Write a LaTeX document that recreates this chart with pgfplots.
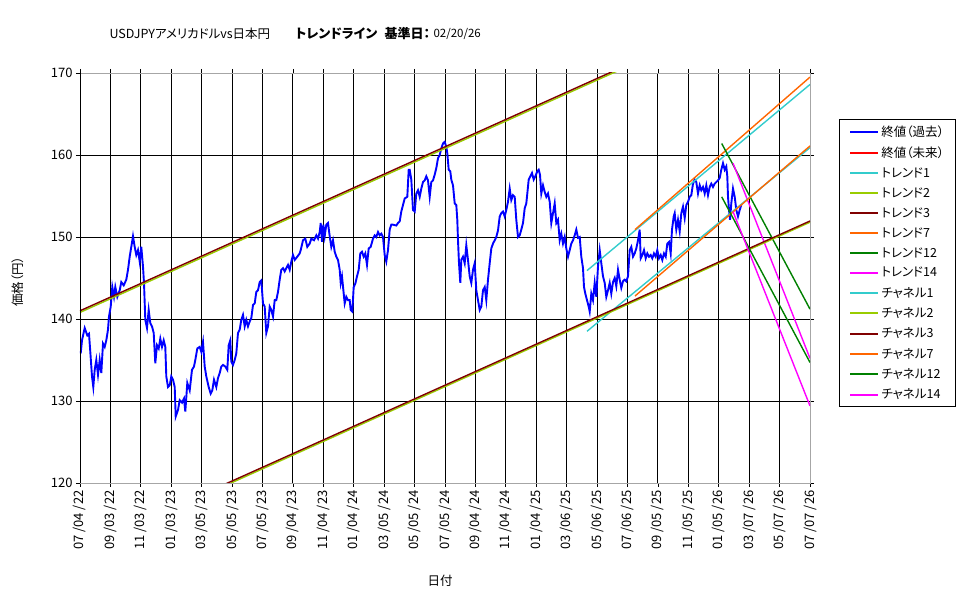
\documentclass[border=0pt]{standalone}
\usepackage{fontspec}
\setmainfont{Noto Sans CJK JP}[RawFeature={+palt}]
\usepackage{pgfplots}
\pgfplotsset{compat=1.18}
\definecolor{tcyan}{RGB}{51,204,204}
\definecolor{tyg}{RGB}{153,204,0}
\definecolor{tdred}{RGB}{128,0,0}
\definecolor{torange}{RGB}{255,102,0}
\definecolor{tgreen}{RGB}{0,128,0}
\definecolor{tmag}{RGB}{255,0,255}
\begin{document}
\begin{tikzpicture}[x=1pt,y=1pt]
\path[use as bounding box] (0,0) rectangle (975,599);
\begin{axis}[
  at={(80pt,116pt)}, anchor=south west,
  scale only axis, width=730pt, height=410pt,
  xmin=80, xmax=810, ymin=120, ymax=170,
  ytick={120,130,140,150,160,170},
  xtick={80,110.42,140.83,171.25,201.67,232.08,262.5,292.92,323.33,353.75,384.17,414.58,445,475.42,505.83,536.25,566.67,597.08,627.5,657.92,688.33,718.75,749.17,779.58,810},
  xticklabels={07 /04 /22,09 /03 /22,11 /03 /22,01 /03 /23,03 /05 /23,05 /05 /23,07 /05 /23,09 /04 /23,11 /04 /23,01 /04 /24,03 /05 /24,05 /05 /24,07 /05 /24,09 /04 /24,11 /04 /24,01 /04 /25,03 /06 /25,05 /06 /25,07 /06 /25,09 /05 /25,11 /05 /25,01 /05 /26,03 /07 /26,05 /07 /26,07 /07 /26},
  /pgf/number format/assume math mode=true,
  ticklabel style={font=\fontsize{13}{13}\selectfont},
  xticklabel style={rotate=90, anchor=east},
  grid=major, major grid style={black, line width=0.9pt},
  axis line style={gray!70, line width=0.9pt},
  tick align=outside, major tick length=4pt, tick style={black, line width=0.8pt},
  legend style={at={(axis description cs:1.0397,0.8878)}, anchor=north west, draw=black, line width=0.9pt,
    font=\fontsize{12.5}{14}\selectfont, inner xsep=10pt, inner ysep=4pt, row sep=4.8pt, cells={anchor=west}},
  legend image code/.code={\draw[#1, line width=2pt] (0pt,0pt) -- (28pt,0pt);},
]
\addplot[blue, line width=1.9pt] table {
80.7 135.8
82 137.4
84.7 138.9
87.3 138.0
89 138.2
90.3 136.0
92 133.0
93.3 131.7
94.7 133.8
96.3 135.0
98 133.2
99.7 135.0
101.3 133.4
103 137.0
104.7 136.6
106.3 137.4
108 138.7
109 140.3
110.7 141.5
112.3 143.9
114 142.7
115.3 143.9
117.3 142.7
119.7 143.5
121.3 144.5
123.7 144.1
126.3 144.8
128 146.0
129.7 147.6
131.3 148.8
133 150.1
134.7 148.8
136.3 147.8
138 148.4
139.7 147.0
141.3 148.8
143 146.4
144 144.4
145.3 139.9
147 138.9
148.7 141.1
150.3 139.5
152 139.1
153.7 138.3
155.3 134.6
157 136.8
158.7 136.4
160.3 137.6
162 136.6
163.7 137.4
165.3 136.6
166.3 133.0
168 131.7
169.7 131.9
171.3 133.0
173 132.6
174.7 131.7
175.7 128.1
178 128.9
179.7 130.1
182 129.8
184 130.3
185.3 128.7
187.3 132.2
189.7 131.3
192 133.8
194 134.2
195.3 135.0
197.3 136.4
199.7 136.6
201.3 136.0
203 137.2
204.7 134.2
206.3 133.0
208.7 131.7
210.7 130.9
212.3 131.3
214 132.6
216.3 131.7
218 132.8
219.7 133.4
221.3 134.2
223 134.4
225.3 134.2
227.3 133.8
228.7 136.8
230.3 137.4
231.3 134.8
233 134.4
234.7 135.0
236.3 135.8
238 138.3
239.7 138.7
241.3 139.9
243 140.5
244.7 139.1
246.3 139.9
248 139.1
249.7 139.7
251.3 140.1
253 141.7
254.7 141.9
256.3 143.3
258 143.5
259.7 144.5
261.3 144.7
263 141.9
264.7 141.5
266.3 138.3
268 139.1
269.7 141.5
271.3 141.1
273 140.3
274.7 142.3
276.3 142.3
278 143.3
279.7 144.8
281.3 146.0
283 146.2
284.7 145.8
286.3 146.2
288 146.6
289.7 146.0
291.3 147.0
293 147.8
294.7 147.2
297.3 147.6
299.7 148.0
300.7 148.4
303 149.6
305.3 149.8
307.3 148.8
309.7 149.2
311.3 149.8
314 149.6
316.3 150.2
318 149.8
319.7 150.6
320.7 151.7
322 149.4
323.3 151.5
324.7 150.1
326.3 151.5
328 151.7
329.7 150.1
331.3 148.8
333 149.6
334.7 148.2
336.3 147.6
338 147.2
339.7 146.0
340.7 144.4
342 145.2
343.7 143.1
344.7 141.9
346.3 142.7
348 142.3
349.7 142.3
350.7 141.1
352.3 140.9
353.7 143.9
355.3 144.3
357 145.2
358.7 146.0
360.3 148.0
362 148.2
363.7 147.6
365.3 148.0
367 146.6
368.7 148.6
370.7 148.8
373 149.8
374.7 150.2
376.3 150.0
378 150.6
379.7 150.2
381.3 150.4
383 150.0
384.7 147.8
386.3 147.0
388 148.4
389.7 150.9
391.3 151.5
393 151.5
396.3 151.4
398 151.7
399.7 151.9
401.3 153.1
403 153.9
404.7 154.7
407.3 154.9
408.7 158.2
409.7 158.2
411.3 157.0
413 153.3
414.7 153.1
416.3 155.3
418 155.7
419.7 154.9
421.3 155.9
423 156.7
424.7 156.9
426.3 157.4
428 156.9
429.7 154.9
431.3 156.7
433 156.9
434.7 157.6
436.3 158.4
438 159.6
439.7 160.0
441.3 160.8
443 161.4
444.7 161.6
446.3 161.0
447.3 160.2
448.7 158.2
450.3 158.0
451.3 157.0
453 156.3
454.7 154.1
456.3 153.9
457.3 152.1
458 149.6
459 146.8
460.3 144.4
461.3 147.2
463 147.6
464.7 146.8
466.3 149.0
468 147.2
469.7 145.2
471.3 144.4
473 146.0
474.7 146.8
476.3 143.5
478 142.3
479.7 141.1
481.3 141.5
483 143.5
484.7 143.9
486.3 142.3
488 144.8
489.7 146.8
491.3 148.6
493 149.2
494.7 149.6
496.3 150.0
498 150.8
499.7 152.5
501.3 152.9
503 153.1
504.7 152.5
506.3 153.3
508 154.3
509.7 155.9
511.3 154.5
513 155.1
514.7 154.9
516.3 152.1
518 150.0
519.7 150.2
521.3 150.9
523 151.7
524.7 153.5
526.3 154.1
527.3 155.3
528.7 157.0
530.3 157.4
532 157.8
533.7 157.0
535.3 157.4
537.3 158.0
538.7 158.2
540 157.6
541.3 155.3
543 156.3
544.7 155.5
546.3 154.9
548 155.3
549.7 154.3
551.3 151.7
553 152.9
554.7 154.1
556.3 151.7
558 152.1
559.7 149.6
561.3 150.4
563 149.2
564.7 150.0
566.3 148.6
568 147.6
569.7 148.4
571.3 149.2
573 149.6
574.7 150.2
576.3 150.9
578 149.9
579.7 150.0
581.3 147.6
583 146.2
584 143.9
585.3 143.1
587 142.3
588.7 141.5
589.7 140.9
591.3 143.1
593 142.3
594.7 144.4
596.3 142.7
598 146.4
599.7 148.4
601.3 146.8
603 145.2
604.7 144.4
606.3 142.7
608 143.5
609.7 144.4
611.3 143.1
613 144.5
614.7 145.0
616.3 144.0
618 146.0
619.7 144.8
621.3 143.8
623 144.6
624.7 144.8
626.3 144.6
628 145.2
629.7 148.4
631.3 148.8
633 147.6
634.7 148.0
636.3 148.6
638 149.6
639.7 150.9
640.7 147.4
642.3 147.8
644 148.4
645.7 147.4
647.3 148.0
649 147.6
650.7 147.8
652.3 147.4
654 148.0
655.7 147.6
657.3 148.4
659 147.4
660.7 147.8
662.3 147.2
664 148.0
665.7 147.6
667.3 149.2
669 149.4
670.7 148.0
672 150.9
673.7 152.5
674.7 152.9
676.3 150.9
678 152.1
679.7 150.7
681.3 152.9
683 153.7
684.7 152.3
686.3 153.9
688 154.3
689.7 154.9
691.3 155.1
693 156.5
694.7 157.0
696.3 156.7
698 155.3
699.7 156.3
701.3 155.7
703 156.1
704.7 155.3
706.3 156.3
708 155.1
709.7 156.1
711.3 156.5
713 156.1
714.7 156.5
716.3 156.7
718 156.9
719.7 157.2
721.3 158.2
723 159.0
724.7 158.2
726.3 158.6
727.3 157.4
728 154.9
729 153.3
730 152.1
731.3 154.1
733 155.9
734.7 154.9
736.3 153.3
738 152.5
739.7 153.3
741.3 153.9
};
\addlegendentry{終値（過去）}
\addlegendimage{red}
\addlegendentry{終値（未来）}
\addplot[tcyan, line width=1.4pt] coordinates {(587,145.9) (810,168.6)};
\addlegendentry{トレンド1}
\addplot[tyg, line width=1.4pt] coordinates {(80,140.8) (810,180.8)};
\addlegendentry{トレンド2}
\addplot[tdred, line width=1.4pt] coordinates {(80,141.0) (810,181.0)};
\addlegendentry{トレンド3}
\addplot[torange, line width=1.4pt] coordinates {(635,150.9) (810,169.5)};
\addlegendentry{トレンド7}
\addplot[tgreen, line width=1.4pt] coordinates {(721.7,161.4) (810,141.2)};
\addlegendentry{トレンド12}
\addplot[tmag, line width=1.4pt] coordinates {(733,159.0) (810,135.2)};
\addlegendentry{トレンド14}
\addplot[tcyan, line width=1.4pt] coordinates {(587,138.5) (810,160.9)};
\addlegendentry{チャネル1}
\addplot[tyg, line width=1.4pt] coordinates {(80,111.7) (810,151.8)};
\addlegendentry{チャネル2}
\addplot[tdred, line width=1.4pt] coordinates {(80,111.9) (810,151.95)};
\addlegendentry{チャネル3}
\addplot[torange, line width=1.4pt] coordinates {(635,142.8) (810,161.1)};
\addlegendentry{チャネル7}
\addplot[tgreen, line width=1.4pt] coordinates {(721.7,154.9) (810,134.7)};
\addlegendentry{チャネル12}
\addplot[tmag, line width=1.4pt] coordinates {(733,153.1) (810,129.4)};
\addlegendentry{チャネル14}
\draw[black, line width=0.9pt] (rel axis cs:0,0) -- (rel axis cs:0,1);
\draw[black, line width=0.9pt] (rel axis cs:0,0) -- (rel axis cs:1,0);
\end{axis}
\node[anchor=west, font=\fontsize{12.5}{12.5}\selectfont] at (106,565) {USDJPYアメリカドルvs日本円};
\node[anchor=west, font=\fontsize{13}{13}\selectfont\bfseries] at (292,565) {トレンドライン};
\node[anchor=west, font=\fontsize{13}{13}\selectfont\bfseries] at (381,565) {基準日：};
\node[anchor=west, font=\fontsize{11.5}{11.5}\selectfont] at (430,565) {02/20/26};
\node[rotate=90, font=\fontsize{12.5}{12.5}\selectfont] at (18,317) {価格（円）};
\node[font=\fontsize{12.5}{12.5}\selectfont] at (440,18) {日付};
\end{tikzpicture}
\end{document}
